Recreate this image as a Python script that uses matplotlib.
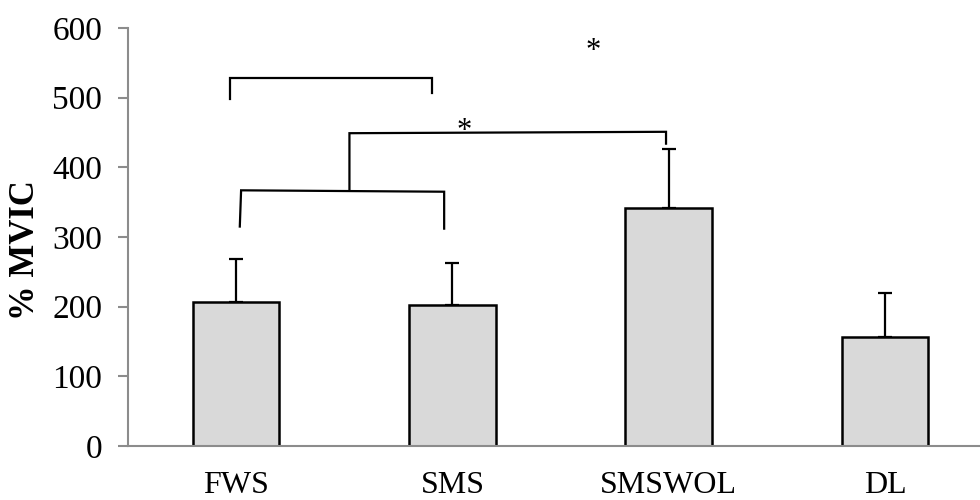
import matplotlib
matplotlib.use("Agg")
import matplotlib.pyplot as plt
import numpy as np

categories = ["FWS", "SMS", "SMSWOL", "DL"]
means = [207, 202, 342, 157]
sd_upper = [62, 61, 85, 62]

yticks = [0, 100, 200, 300, 400, 500, 600]

# bracket 1 (FWS–SMS, top)
br1_x = [-0.028, -0.028, 0.905, 0.905]
br1_y = [498, 528, 528, 506]
# bracket 2 (FWS–SMS, lower) and its link to SMSWOL
br2_x = [0.017, 0.023, 0.962, 0.962]
br2_y = [315, 367, 365, 312]
link_x = [0.524, 0.524, 1.988, 1.988]
link_y = [367, 449, 451, 434]
stars_x = [1.65, 1.054]
stars_y = [566, 452]

plt.rcParams['font.family'] = ['Liberation Serif', 'DejaVu Serif']

fig = plt.figure(figsize=(9.8, 5.0), dpi=100)
ax = fig.add_axes([128/980, 54/500, 865/980, 418/500])

x = np.arange(len(categories))
ax.bar(x, means, width=0.4, color="#d9d9d9", edgecolor="black", linewidth=1.8, zorder=2)
ax.errorbar(x, means, yerr=[np.zeros(len(means)), sd_upper], fmt="none",
            ecolor="black", elinewidth=1.6, capsize=5, capthick=1.6, zorder=1)

lk = dict(color="black", linewidth=1.6, solid_joinstyle="miter", clip_on=False)
ax.plot(br1_x, br1_y, **lk)
ax.plot(br2_x, br2_y, **lk)
ax.plot(link_x, link_y, **lk)
for sx, sy in zip(stars_x, stars_y):
    ax.text(sx, sy, "*", fontsize=22, ha="center", va="center")

ax.set_xlim(-0.5, 3.5)
ax.set_ylim(0, 600)
ax.set_yticks(yticks)
ax.set_xticks(x)
ax.set_xticklabels(categories, fontsize=23)
ax.tick_params(axis="x", length=0, pad=18)
ax.tick_params(axis="y", length=7.2, width=1.5, color="#8c8c8c", labelsize=24, pad=11.5)

for s in ["top", "right"]:
    ax.spines[s].set_visible(False)
for s in ["left", "bottom"]:
    ax.spines[s].set_color("#8c8c8c")
    ax.spines[s].set_linewidth(1.5)

ax.set_ylabel("% MVIC", fontsize=25, fontweight="bold")
ax.yaxis.set_label_coords(-0.099, 0.469)

fig.savefig("out.png", dpi=100)
